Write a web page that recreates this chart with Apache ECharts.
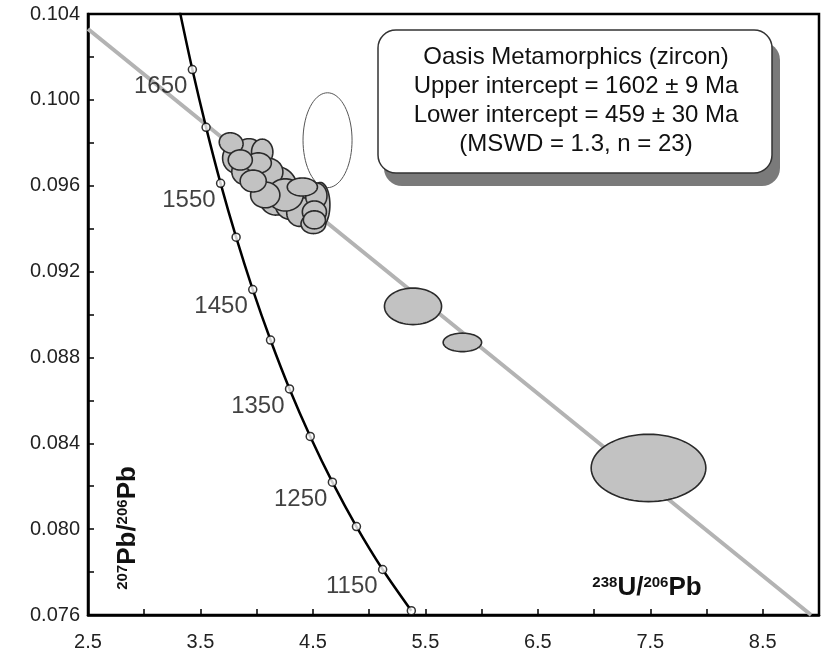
<!DOCTYPE html>
<html>
<head>
<meta charset="utf-8">
<script src="https://cdn.jsdelivr.net/npm/echarts@6/dist/echarts.min.js"></script>
<style>
html,body{margin:0;padding:0;background:#fff;}
#chart{width:830px;height:655px;}
</style>
</head>
<body>
<div id="chart"></div>
<script>
// ---- Data ----
// Concordia curve (ages in Ma) and its coordinates
var concAges = [1700, 1650, 1600, 1550, 1500, 1450, 1400, 1350, 1300, 1250, 1200, 1150, 1100];
var concX    = [3.314, 3.428, 3.550, 3.679, 3.817, 3.965, 4.123, 4.292, 4.476, 4.673, 4.887, 5.120, 5.375];
var concY    = [0.10418, 0.10141, 0.09872, 0.09611, 0.09360, 0.09116, 0.08881, 0.08653, 0.08432, 0.08219, 0.08012, 0.07812, 0.07620];
var labelAges = [1650, 1550, 1450, 1350, 1250, 1150];

// Discordia line end points
var discX = [2.5, 8.93];
var discY = [0.1033, 0.0760];

// Filled error ellipses: centre x, centre y, half-width (x units), half-height (y units), tilt (deg)
var ellX   = [3.827, 3.943, 4.049, 4.174, 4.165, 4.299, 4.103, 4.388, 4.566, 4.504, 3.898, 4.254, 4.530, 4.076, 3.773, 4.014, 3.969, 4.406, 4.513, 3.854, 4.513, 5.390, 5.829, 7.484];
var ellY   = [0.09729, 0.09757, 0.09757, 0.09594, 0.09534, 0.09511, 0.09664, 0.09478, 0.09511, 0.09422, 0.09664, 0.09557, 0.09553, 0.09557, 0.09799, 0.09706, 0.09622, 0.09594, 0.09478, 0.09720, 0.09441, 0.09038, 0.08870, 0.08285];
var ellRx  = [0.130, 0.130, 0.095, 0.190, 0.140, 0.135, 0.130, 0.120, 0.085, 0.110, 0.120, 0.160, 0.095, 0.130, 0.107, 0.116, 0.116, 0.134, 0.107, 0.107, 0.098, 0.254, 0.171, 0.510];
var ellRy  = [0.00072, 0.00060, 0.00060, 0.00095, 0.00070, 0.00068, 0.00064, 0.00068, 0.00104, 0.00045, 0.00060, 0.00075, 0.00060, 0.00060, 0.00047, 0.00047, 0.00051, 0.00042, 0.00051, 0.00047, 0.00042, 0.00085, 0.00043, 0.00157];
var ellAng = [0, 30, 0, 40, 30, 30, 0, 20, 0, 0, 20, 0, 0, 0, 15, 0, 0, 0, 0, 0, 0, 0, 0, 0];

// Open (excluded) ellipse
var openX = [4.630], openY = [0.09812], openRx = [0.218], openRy = [0.00221], openAng = [0];

// Axis tick labels
var xTickLabels = ['2.5', '3.5', '4.5', '5.5', '6.5', '7.5', '8.5'];
var yTickLabels = ['0.076', '0.080', '0.084', '0.088', '0.092', '0.096', '0.100', '0.104'];

var boxLines = ['Oasis Metamorphics (zircon)', 'Upper intercept = 1602 \u00b1 9 Ma', 'Lower intercept = 459 \u00b1 30 Ma', '(MSWD = 1.3, n = 23)'];

// ---- Build ----
var FONT = '"Liberation Sans", Arial, Helvetica, sans-serif';
function zip(a, b) { return a.map(function (v, i) { return [v, b[i]]; }); }
function ellData(x, y, rx, ry, ang) { return x.map(function (v, i) { return [v, y[i], rx[i], ry[i], ang[i]]; }); }

function ellipseRenderer(fill, stroke, lw) {
  return function (params, api) {
    var c = api.coord([api.value(0), api.value(1)]);
    var s = api.size([api.value(2), api.value(3)], [api.value(0), api.value(1)]);
    var a = api.value(4) * Math.PI / 180;
    var pts = [];
    for (var k = 0; k < 72; k++) {
      var t = k / 72 * 2 * Math.PI;
      var ex = s[0] * Math.cos(t), ey = s[1] * Math.sin(t);
      pts.push([c[0] + ex * Math.cos(a) - ey * Math.sin(a), c[1] + ex * Math.sin(a) + ey * Math.cos(a)]);
    }
    return { type: 'polygon', shape: { points: pts }, style: { fill: fill, stroke: stroke, lineWidth: lw } };
  };
}

var concData = zip(concX, concY);
var markerData = concData.slice(1);
var labelData = [];
concAges.forEach(function (a, i) { if (labelAges.indexOf(a) >= 0) labelData.push({ value: [concX[i], concY[i]], name: String(a) }); });

var chart = echarts.init(document.getElementById('chart'), null, { renderer: 'canvas' });
var option = {
  animation: false,
  grid: { left: 88, right: 11, top: 14, bottom: 40, show: true, borderColor: '#000', borderWidth: 2.5, backgroundColor: 'transparent' },
  xAxis: {
    type: 'value', min: 2.5, max: 9.0, interval: 0.5,
    splitLine: { show: false },
    axisLine: { show: true, onZero: false, lineStyle: { color: '#000', width: 2.5 } },
    axisTick: { show: true, inside: true, length: 6, lineStyle: { color: '#000', width: 1.5 } },
    axisLabel: {
      margin: 17, fontSize: 20, color: '#222', fontFamily: FONT,
      formatter: function (v) {
        var s = v.toFixed(1);
        return xTickLabels.indexOf(s) >= 0 ? s : '';
      }
    }
  },
  yAxis: {
    type: 'value', min: 0.076, max: 0.104, interval: 0.002,
    splitLine: { show: false },
    axisLine: { show: true, onZero: false, lineStyle: { color: '#000', width: 2.5 } },
    axisTick: { show: true, inside: true, length: 6, lineStyle: { color: '#000', width: 1.5 } },
    axisLabel: {
      margin: 8, fontSize: 20, color: '#222', fontFamily: FONT,
      formatter: function (v) {
        var s = v.toFixed(3);
        return yTickLabels.indexOf(s) >= 0 ? s : '';
      }
    }
  },
  series: [
    {
      type: 'line', data: zip(discX, discY), symbol: 'none', z: 1,
      lineStyle: { color: '#b3b3b3', width: 4 }, silent: true
    },
    {
      type: 'custom', data: ellData(openX, openY, openRx, openRy, openAng), z: 2,
      encode: { x: 0, y: 1 }, renderItem: ellipseRenderer('rgba(255,255,255,0)', '#555', 1), silent: true
    },
    {
      type: 'custom', data: ellData(ellX, ellY, ellRx, ellRy, ellAng), z: 3,
      encode: { x: 0, y: 1 }, renderItem: ellipseRenderer('#c2c2c2', '#2a2a2a', 1.6), silent: true
    },
    {
      type: 'line', data: concData, symbol: 'none', smooth: 0.3, z: 4, clip: true,
      lineStyle: { color: '#000', width: 2.5 }, silent: true
    },
    {
      type: 'scatter', data: markerData, symbol: 'circle', symbolSize: 8, z: 5, clip: false,
      itemStyle: { color: '#fff', borderColor: '#000', borderWidth: 1.5 }, silent: true
    },
    {
      type: 'scatter', data: labelData, symbolSize: 0, z: 6, silent: true,
      label: {
        show: true, position: 'left', distance: 5, offset: [0, 17],
        formatter: '{b}', fontSize: 24, color: '#111', fontFamily: FONT
      }
    }
  ],
  graphic: [
    { type: 'rect', z: 10, shape: { x: 384, y: 42, width: 396, height: 144, r: 18 }, style: { fill: '#7a7a7a' } },
    { type: 'rect', z: 11, shape: { x: 378, y: 30, width: 394, height: 143, r: 18 }, style: { fill: '#fff', stroke: '#333', lineWidth: 1.5 } },
    {
      type: 'text', z: 12, x: 576, y: 101,
      style: {
        text: boxLines.join('\n'), fontSize: 24, lineHeight: 29, fontFamily: FONT,
        fill: '#111', align: 'center', verticalAlign: 'middle'
      }
    },
    {
      type: 'text', z: 12, x: 647, y: 588,
      style: {
        text: '{s|238}{b|U/}{s|206}{b|Pb}', align: 'center', verticalAlign: 'middle', fill: '#111',
        rich: {
          s: { fontSize: 15, fontWeight: 'bold', fontFamily: FONT, verticalAlign: 'top', lineHeight: 26, fill: '#111' },
          b: { fontSize: 26, fontWeight: 'bold', fontFamily: FONT, verticalAlign: 'bottom', lineHeight: 26, fill: '#111' }
        }
      }
    },
    {
      type: 'text', z: 12, x: 128, y: 528, rotation: Math.PI / 2,
      style: {
        text: '{s|207}{b|Pb/}{s|206}{b|Pb}', align: 'center', verticalAlign: 'middle', fill: '#111',
        rich: {
          s: { fontSize: 15, fontWeight: 'bold', fontFamily: FONT, verticalAlign: 'top', lineHeight: 26, fill: '#111' },
          b: { fontSize: 26, fontWeight: 'bold', fontFamily: FONT, verticalAlign: 'bottom', lineHeight: 26, fill: '#111' }
        }
      }
    }
  ]
};
chart.setOption(option);
</script>
</body>
</html>
